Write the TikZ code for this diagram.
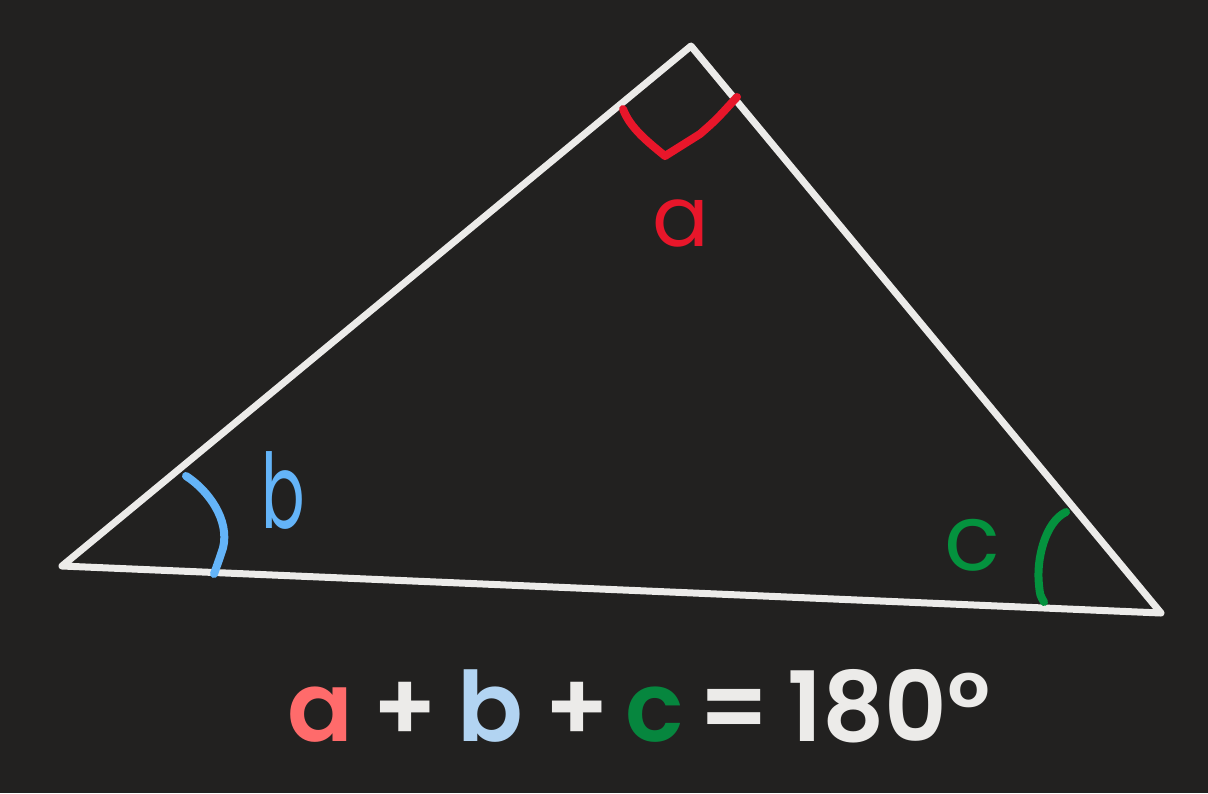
\documentclass[tikz,border=0pt]{standalone}
\usepackage{fontspec}
\usepackage{graphicx}
\newfontfamily\eqfont{Poppins SemiBold}
\newfontfamily\handfont{Poppins}
\definecolor{bgc}{RGB}{34,33,32}
\definecolor{linec}{RGB}{236,235,233}
\definecolor{markred}{RGB}{232,22,42}
\definecolor{markblue}{RGB}{100,180,248}
\definecolor{markgreen}{RGB}{4,146,62}
\definecolor{eqred}{RGB}{255,107,107}
\definecolor{eqblue}{RGB}{178,212,242}
\definecolor{eqgreen}{RGB}{6,134,62}
\begin{document}
\begin{tikzpicture}[x=1pt,y=-1pt,
  tri/.style={draw=linec,line width=7pt,line join=round,line cap=round},
  angmark/.style={line width=8pt,line cap=round,line join=round},
  hand/.style={inner sep=0pt,anchor=base},
  eq/.style={inner sep=0pt,anchor=base,font=\eqfont\fontsize{97}{100}\selectfont}]
\fill[bgc] (0,0) rectangle (1208,793);
\useasboundingbox (0,0) rectangle (1208,793);
% triangle
\coordinate (T) at (691,46);
\coordinate (L) at (62,566);
\coordinate (R) at (1161,613);
\draw[tri] (T) -- (L) -- (R) -- cycle;
% right-angle mark a
\coordinate (ra1) at (623,109);
\coordinate (ra2) at (665,156);
\coordinate (ra3) at (700,134);
\coordinate (ra4) at (737,97);
\draw[angmark,markred] (ra1) .. controls (630,128) and (648,142) .. (ra2) -- (ra3) .. controls (716,120) .. (ra4);
% arc b
\coordinate (rb1) at (186,476);
\coordinate (rb2) at (214,574);
\draw[angmark,markblue] (rb1) .. controls (208,490) and (230,520) .. (223,548) .. controls (219,560) .. (rb2);
% arc c
\coordinate (rc1) at (1066,512);
\coordinate (rc2) at (1044,602);
\draw[angmark,markgreen] (rc1) .. controls (1045,522) and (1036,560) .. (1039,585) .. controls (1040,595) .. (rc2);
% hand labels
\node[hand,text=markred,font=\handfont\fontsize{84}{90}\selectfont] (la) at (681,246) {a};
\node[hand,text=markblue,font=\handfont\fontsize{104}{110}\selectfont] (lb) at (283,528) {\scalebox{0.62}[1]{b}};
\node[hand,text=markgreen,font=\handfont\fontsize{92}{100}\selectfont] (lc) at (972,570) {c};
% equation
\node[eq,text=eqred] (ea) at (320,741) {a};
\node[eq,text=linec] (ep1) at (405,741) {+};
\node[eq,text=eqblue] (eb) at (490,741) {b};
\node[eq,text=linec] (ep2) at (577,741) {+};
\node[eq,text=eqgreen] (ec) at (655,741) {c};
\node[eq,text=linec] (eeq) at (734,741) {=};
\node[eq,text=linec] (e180) at (889,741) {180°};
\end{tikzpicture}
\end{document}
